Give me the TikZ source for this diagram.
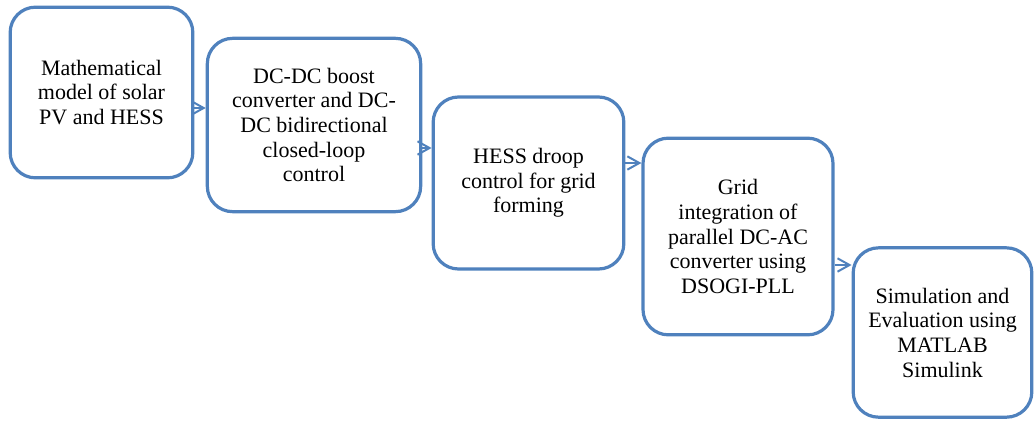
\documentclass[tikz,border=0pt]{standalone}
\usepackage{fontspec}
\setmainfont{Liberation Serif}
\usetikzlibrary{arrows.meta}
\definecolor{boxblue}{RGB}{79,129,189}
\begin{document}
\begin{tikzpicture}[x=0.75pt,y=-0.75pt,
  stepbox/.style={draw=boxblue, line width=2.4pt, rounded corners=19pt, fill=white,
    inner sep=0pt, align=center, font=\fontsize{16.5}{18.5}\selectfont},
  arr/.style={draw=boxblue, line width=1.5pt, -{Straight Barb[length=9pt,width=10pt,line width=1.5pt]}}]
\useasboundingbox (0,0) rectangle (1035,421);
\node[stepbox, minimum width=137pt, minimum height=128pt] (b1) at (101.5,92.5)
  {Mathematical\\model of solar\\PV and HESS};
\node[stepbox, minimum width=160pt, minimum height=130pt] (b2) at (314,125)
  {DC-DC boost\\converter and DC-\\DC bidirectional\\closed-loop\\control};
\node[stepbox, minimum width=143pt, minimum height=129pt] (b3) at (528.5,183)
  {HESS droop\\control for grid\\forming};
\node[stepbox, minimum width=142.5pt, minimum height=147.5pt] (b4) at (738,236.5)
  {Grid\\integration of\\parallel DC-AC\\converter using\\DSOGI-PLL};
\node[stepbox, minimum width=134pt, minimum height=127pt] (b5) at (942.5,332.5)
  {Simulation and\\Evaluation using\\MATLAB\\Simulink};
\path (b1.east) ++(0,15.5) coordinate (s1);
\draw[arr] (s1) -- (s1 -| b2.west);
\path (b2.east) ++(0,23) coordinate (s2);
\draw[arr] (s2) -- (s2 -| b3.west);
\path (b3.east) ++(0,-20) coordinate (s3);
\draw[arr] (s3) -- (s3 -| b4.west);
\path (b4.east) ++(0,28.5) coordinate (s4);
\draw[arr] (s4) -- (s4 -| b5.west);
\end{tikzpicture}
\end{document}
